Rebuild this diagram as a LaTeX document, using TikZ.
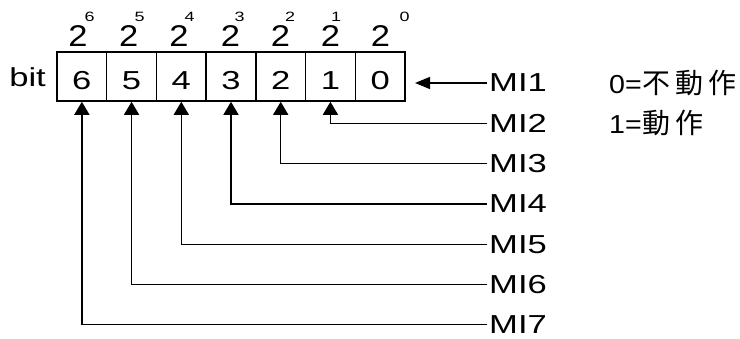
\documentclass[tikz,border=0pt]{standalone}
\usepackage{fontspec}
\setmainfont{Liberation Sans}[FakeStretch=1.33]
\newfontfamily\plainsans{Liberation Sans}[FakeStretch=1.1]
\newfontfamily\twofont{Liberation Sans}[FakeStretch=1.15]
\newfontfamily\cjkfont{Noto Sans CJK TC}
\usetikzlibrary{arrows.meta}
\newcommand{\cjktext}[1]{{\cjkfont\fontsize{28}{32}\selectfont #1}}
\begin{document}
\begin{tikzpicture}[x=1pt,y=-1pt,
  cell/.style={draw,line width=1.5pt,minimum width=49.714pt,minimum height=49pt,inner sep=0pt,
    font=\fontsize{26}{30}\selectfont,text height=26.6pt,text depth=0pt},
  basetwo/.style={inner sep=0pt,font=\twofont\fontsize{30}{36}\selectfont},
  expo/.style={inner sep=0pt,anchor=south west,font=\fontsize{13.5}{16}\selectfont},
  lbl/.style={anchor=west,inner ysep=0pt,inner xsep=2pt,font=\fontsize{26}{30}\selectfont},
  cjk/.style={anchor=west,inner sep=0pt,font=\plainsans\fontsize{26}{30}\selectfont},
  conn/.style={line width=1.3pt,-{Triangle[length=13pt,width=15pt]}},
  connh/.style={line width=1.3pt,-{Triangle[length=15pt,width=12pt]}}]
\useasboundingbox (0,0) rectangle (740,338);
% cells
\node[cell] (c6) at (81.86,76.5) {6};
\node[cell] (c5) at (131.57,76.5) {5};
\node[cell] (c4) at (181.29,76.5) {4};
\node[cell] (c3) at (231.0,76.5) {3};
\node[cell] (c2) at (280.71,76.5) {2};
\node[cell] (c1) at (330.43,76.5) {1};
\node[cell] (c0) at (380.14,76.5) {0};
\node[anchor=east,inner sep=0pt,font=\fontsize{26}{30}\selectfont] (bit) at (46,77) {bit};
% powers of two
\node[basetwo] (b6) at (78,35.8) {2};
\node[basetwo] (b5) at (128.7,35.8) {2};
\node[basetwo] (b4) at (179,35.8) {2};
\node[basetwo] (b3) at (230.5,35.8) {2};
\node[basetwo] (b2) at (280.5,35.8) {2};
\node[basetwo] (b1) at (330.5,35.8) {2};
\node[basetwo] (b0) at (380.5,35.8) {2};
\node[expo] (e6) at (84.5,22) {6};
\node[expo] (e5) at (134.5,22) {5};
\node[expo] (e4) at (184.5,22) {4};
\node[expo] (e3) at (234.5,22) {3};
\node[expo] (e2) at (285,22) {2};
\node[expo] (e1) at (331,21.5) {1};
\node[expo] (e0) at (399.5,22) {0};
% labels
\node[lbl] (mi1) at (487,83) {MI1};
\node[lbl] (mi2) at (487,123.3) {MI2};
\node[lbl] (mi3) at (487,163.6) {MI3};
\node[lbl] (mi4) at (487,203.9) {MI4};
\node[lbl] (mi5) at (487,244.2) {MI5};
\node[lbl] (mi6) at (487,284.5) {MI6};
\node[lbl] (mi7) at (487,324.8) {MI7};
\node[cjk] (off) at (609,83) {0=\hspace{1pt}\cjktext{不\hspace{5pt}動\hspace{5pt}作}};
\node[cjk] (on) at (609,123.3) {1=\hspace{1pt}\cjktext{動\hspace{5pt}作}};
% connectors
\coordinate (t1) at (415,83);
\draw[connh] (mi1.west) -- (t1);
\draw[conn] (mi2.west) -| (c1.south);
\draw[conn] (mi3.west) -| (c2.south);
\draw[conn] (mi4.west) -| (c3.south);
\draw[conn] (mi5.west) -| (c4.south);
\draw[conn] (mi6.west) -| (c5.south);
\draw[conn] (mi7.west) -| (c6.south);
\end{tikzpicture}
\end{document}
